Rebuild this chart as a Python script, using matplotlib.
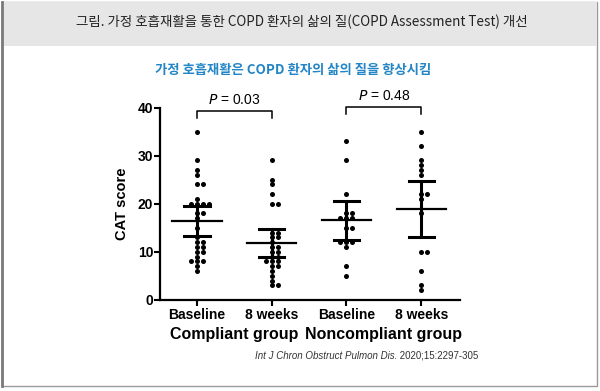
import numpy as np
import matplotlib
matplotlib.use('Agg')
import matplotlib.pyplot as plt
from matplotlib.patches import Rectangle

plt.rcParams['font.family'] = ['Liberation Sans', 'Noto Sans CJK KR', 'DejaVu Sans']

# Dados
categories = ['Baseline', '8 weeks', 'Baseline', '8 weeks']
groups = ['Compliant group', 'Noncompliant group']
compliant_baseline = [35, 29, 27, 26, 24, 24, 21, 20, 20, 20, 20, 18, 18, 17, 15, 13,
                      12, 12, 11, 11, 10, 10, 9, 8, 8, 8, 7, 6]
compliant_8wk = [29, 25, 24, 22, 20, 20, 14, 14, 13, 13, 12, 11, 11, 10, 10, 9, 9,
                 8, 8, 8, 7, 7, 6, 5, 4, 3, 3]
noncompliant_baseline = [33, 29, 22, 18, 18, 17, 17, 17, 15, 15, 12, 12, 12, 11, 7, 5]
noncompliant_8wk = [35, 32, 29, 28, 27, 26, 22, 22, 21, 18, 10, 10, 6, 3, 2]
means = [16.5, 11.8, 16.6, 19.0]
ci_low = [13.3, 8.9, 12.5, 13.1]
ci_high = [19.6, 14.7, 20.5, 24.8]
p_labels = ['0.03', '0.48']

series = [compliant_baseline, compliant_8wk, noncompliant_baseline, noncompliant_8wk]

fig = plt.figure(figsize=(6.0, 3.91), dpi=100)

# Moldura e faixa do cabeçalho
fig.patches.append(Rectangle((0.004, 0.012), 0.991, 0.982, transform=fig.transFigure,
                             facecolor='none', edgecolor='#9a9a9a', lw=1.0))
fig.patches.append(Rectangle((0.004, 0.883), 0.991, 0.111, transform=fig.transFigure,
                             facecolor='#e6e6e6', edgecolor='none'))
fig.lines.append(plt.Line2D([0.004, 0.004], [0.012, 0.994], transform=fig.transFigure,
                            color='#7a7a7a', lw=2.0))

fig.text(0.503, 0.943, '그림. 가정 호흡재활을 통한 COPD 환자의 삶의 질(COPD Assessment Test) 개선',
         ha='center', va='center', fontsize=9.7, color='#222222',
         family=['Noto Sans CJK KR', 'DejaVu Sans'])
fig.text(0.488, 0.82, '가정 호흡재활은 COPD 환자의 삶의 질을 향상시킴',
         ha='center', va='center', fontsize=9.6, color='#2385c6', fontweight='bold',
         family=['Noto Sans CJK KR', 'DejaVu Sans'])

ax = fig.add_axes([0.267, 0.233, 0.50, 0.492])
ax.set_xlim(-0.49, 3.52)
ax.set_ylim(0, 40)

# Beeswarm simples em pixels
px_x = 75.0
px_y = 4.82
dot = 6.0
for i, vals in enumerate(series):
    placed = []
    xs, ys = [], []
    for v in sorted(vals, reverse=True):
        yp = v * px_y
        k = 0
        while True:
            off = ((k + 1) // 2) * dot * (1 if k % 2 == 1 else -1) if k > 0 else 0.0
            ok = all((off - a) ** 2 + (yp - b) ** 2 >= (dot * 0.78) ** 2 for a, b in placed)
            if ok:
                break
            k += 1
        placed.append((off, yp))
        xs.append(i + off / px_x)
        ys.append(v)
    ax.scatter(xs, ys, s=13, color='black', zorder=3, linewidths=0)

    # média e IC
    ax.plot([i - 0.33, i + 0.33], [means[i], means[i]], color='black', lw=1.6, zorder=4)
    ax.plot([i, i], [ci_low[i], ci_high[i]], color='black', lw=2.2, zorder=4)
    for yc in (ci_low[i], ci_high[i]):
        ax.plot([i - 0.17, i + 0.17], [yc, yc], color='black', lw=2.2, zorder=4)

# Colchetes com valor de P
for j, p in enumerate(p_labels):
    x0, x1 = 2 * j, 2 * j + 1
    yb = 39.3 if j == 0 else 40.1
    ax.plot([x0, x0, x1, x1], [yb - 1.4, yb, yb, yb - 1.4], color='black', lw=1.1, clip_on=False)
    ax.text((x0 + x1) / 2, yb + 0.9, r'$\it{P}$ = ' + p, ha='center', va='bottom',
            fontsize=10, color='black', clip_on=False)

ax.spines['top'].set_visible(False)
ax.spines['right'].set_visible(False)
ax.spines['left'].set_linewidth(1.6)
ax.spines['bottom'].set_linewidth(1.6)
ax.set_yticks([0, 10, 20, 30, 40])
ax.set_xticks(range(len(categories)))
ax.set_xticklabels(categories, fontsize=10, fontweight='bold')
ax.tick_params(axis='y', labelsize=10, width=1.5, length=4, pad=1)
ax.tick_params(axis='x', width=1.5, length=4, pad=2)
for lab in ax.get_yticklabels():
    lab.set_fontweight('bold')
ax.set_ylabel('CAT score', fontsize=10.5, fontweight='bold', labelpad=6)

for j, g in enumerate(groups):
    ax.text(2 * j + 0.5, -0.14, g, transform=ax.get_xaxis_transform(), ha='center',
            va='top', fontsize=11.5, fontweight='bold')

# Referência
renderer = fig.canvas.get_renderer()
t2 = fig.text(0.797, 0.09, ' 2020;15:2297-305', ha='right', va='center', fontsize=7,
              color='#333333')
bb = t2.get_window_extent(renderer)
x_left = bb.x0 / fig.bbox.width
fig.text(x_left, 0.09, 'Int J Chron Obstruct Pulmon Dis.', ha='right', va='center',
         fontsize=7, style='italic', color='#333333')

fig.savefig('out.png', dpi=100)
